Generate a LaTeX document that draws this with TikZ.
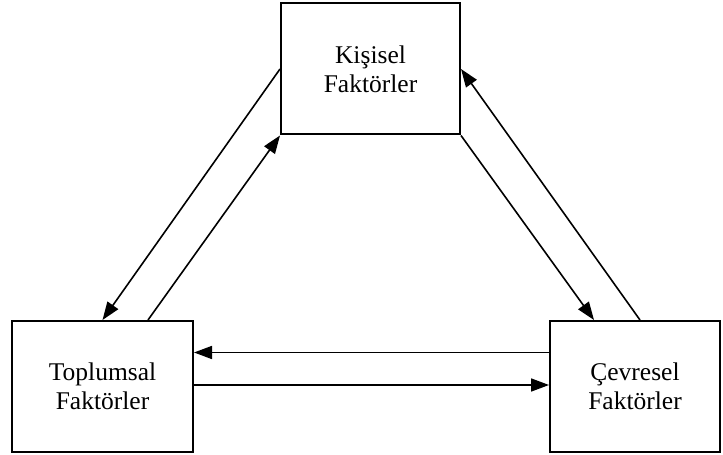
\documentclass[tikz,border=0pt]{standalone}
\usepackage{fontspec}
\setmainfont{Liberation Serif}
\usetikzlibrary{arrows.meta}
\begin{document}
\begin{tikzpicture}[x=1pt,y=1pt,
  factorbox/.style={draw, line width=2pt, minimum width=#1, minimum height=131pt,
    inner sep=0pt, align=center, font=\fontsize{25.5}{29}\selectfont},
  arr/.style={line width=1.6pt, -{Triangle[length=18pt,width=13pt]}}]
  \useasboundingbox (0,0) rectangle (723,455);
  % the three factor boxes
  \node[factorbox=179pt] (top)   at (370.5,386) {Kişisel\\Faktörler};
  \node[factorbox=181pt] (left)  at (102.5,68.5) {Toplumsal\\Faktörler};
  \node[factorbox=170pt] (right) at (635,68.5)  {Çevresel\\Faktörler};
  % reciprocal connectors
  \draw[arr] (top.west) -- (left.north);
  \draw[arr] ([xshift=45.5pt]left.north) -- (top.south west);
  \draw[arr] (top.south east) -- ([xshift=-41pt]right.north);
  \draw[arr] ([xshift=5pt]right.north) -- (top.east);
  \draw[arr] ([yshift=34pt]right.west) -- ([yshift=34pt]left.east);
  \draw[arr] ([yshift=1.5pt]left.east) -- ([yshift=1.5pt]right.west);
\end{tikzpicture}
\end{document}
